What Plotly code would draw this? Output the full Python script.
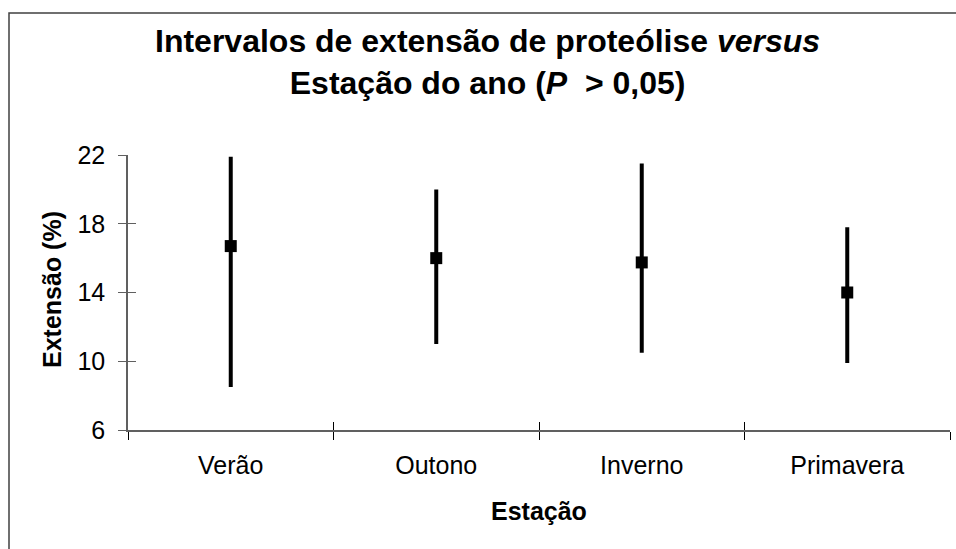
import plotly.graph_objects as go

# ---- data ----
estacoes = ["Verão", "Outono", "Inverno", "Primavera"]
media = [16.7, 16.0, 15.75, 14.0]
maximo = [21.9, 20.0, 21.5, 17.8]
minimo = [8.5, 11.0, 10.5, 9.9]
y_ticks = [6, 10, 14, 18, 22]

title_l1 = "Intervalos de extensão de proteólise <i>versus</i>"
title_l2 = "Estação do ano (<i>P</i>  > 0,05)"
x_title = "Estação"
y_title = "Extensão (%)"

# ---- layout (pixels) ----
W, H = 956, 549
L, R, T, B = 128, 950, 155, 430
FONT = "Arial, Liberation Sans, sans-serif"

def px(x):
    return (x - L) / (R - L)

def py(y):
    return (B - y) / (B - T)

err_plus = [hi - m for hi, m in zip(maximo, media)]
err_minus = [m - lo for m, lo in zip(media, minimo)]

fig = go.Figure()
fig.add_trace(go.Scatter(
    x=estacoes, y=media, mode="markers",
    marker=dict(symbol="square", size=12, color="black"),
    error_y=dict(type="data", symmetric=False, array=err_plus,
                 arrayminus=err_minus, thickness=4, width=0, color="black"),
    showlegend=False, hoverinfo="skip",
))

axis_col = "#606060"
fig.update_layout(
    width=W, height=H,
    margin=dict(l=L, r=W - R, t=T, b=H - B, pad=0),
    paper_bgcolor="white", plot_bgcolor="white",
    font=dict(family=FONT, color="black", size=25),
    xaxis=dict(
        type="category", categoryorder="array", categoryarray=estacoes,
        range=[-0.5, 3.5], tickson="boundaries", ticks="outside",
        ticklen=8, tickwidth=1, tickcolor="black",
        showline=True, linecolor=axis_col, linewidth=1.5,
        showgrid=False, zeroline=False, ticklabelstandoff=12,
        tickfont=dict(size=25),
    ),
    yaxis=dict(
        range=[y_ticks[0], y_ticks[-1]], tickvals=y_ticks, ticks="outside",
        ticklen=8, tickwidth=1, tickcolor=axis_col,
        showline=True, linecolor=axis_col, linewidth=1.5,
        showgrid=False, zeroline=False, ticklabelstandoff=8,
        tickfont=dict(size=25),
    ),
    xaxis2=dict(
        overlaying="x", anchor="y", side="bottom",
        range=[-0.5, 3.5], tickvals=[-0.5, 0.5, 1.5, 2.5, 3.5],
        ticks="inside", ticklen=8, tickwidth=1, tickcolor="black",
        showticklabels=False, showline=False, showgrid=False, zeroline=False,
    ),
    yaxis2=dict(
        overlaying="y", anchor="x", side="left",
        range=[y_ticks[0], y_ticks[-1]], tickvals=y_ticks,
        ticks="inside", ticklen=8, tickwidth=1, tickcolor=axis_col,
        showticklabels=False, showline=False, showgrid=False, zeroline=False,
    ),
)

# invisible trace to activate overlay axes
fig.add_trace(go.Scatter(x=[None], y=[None], xaxis="x2", yaxis="y2",
                         showlegend=False, hoverinfo="skip"))

fig.add_annotation(
    text="<b>" + title_l1 + "<br>" + title_l2 + "</b>",
    xref="paper", yref="paper",
    x=px(487), y=py(62), xanchor="center", yanchor="middle",
    showarrow=False, font=dict(size=32, family=FONT, color="black"),
)
fig.add_annotation(
    text="<b>" + x_title + "</b>", xref="paper", yref="paper",
    x=px(539), y=py(511), xanchor="center", yanchor="middle",
    showarrow=False, font=dict(size=25, family=FONT, color="black"),
)
fig.add_annotation(
    text="<b>" + y_title + "</b>", xref="paper", yref="paper",
    x=px(52), y=py(290), xanchor="center", yanchor="middle", textangle=-90,
    showarrow=False, font=dict(size=25, family=FONT, color="black"),
)

# outer chart border
fig.add_shape(type="rect", xref="paper", yref="paper",
              x0=px(9), y0=py(H + 40), x1=px(W + 40), y1=py(13),
              line=dict(color="#404040", width=1.5), fillcolor="rgba(0,0,0,0)",
              layer="below")

fig.write_html("out.html", config={"displayModeBar": False},
               post_script="document.body.style.margin='0';document.body.style.overflow='hidden';")
